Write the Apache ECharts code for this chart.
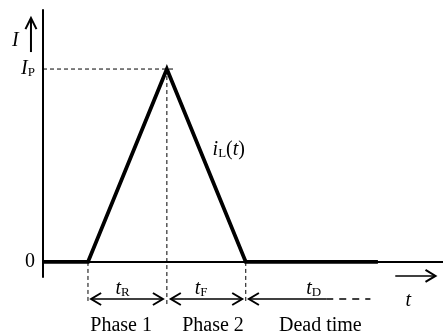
<!DOCTYPE html>
<html>
<head>
<meta charset="utf-8">
<script src="https://cdn.jsdelivr.net/npm/echarts@6/dist/echarts.min.js"></script>
<style>
  html, body { margin: 0; padding: 0; background: #fff; }
  #chart { width: 443px; height: 336px; }
</style>
</head>
<body>
<div id="chart"></div>
<script>
// Inductor current over one switching cycle: ramp up, ramp down, dead time.
const timeStart = -1.14;          // left end of the time axis
const timeEnd = 9;                // right end of the time axis
const waveTimes = [timeStart, 0, 2, 4, 7.35];
const waveCurrent = [0, 0, 1, 0, 0];
const peakCurrent = 1;            // I_P
const riseEnd = 2;                // end of t_R
const fallEnd = 4;                // end of t_F
const phaseNames = ['Phase 1', 'Phase 2', 'Dead time'];
const phaseCenters = [0.84, 3.17, 5.89];
const yTickValues = [0, peakCurrent];

const FONT = '"Liberation Serif", "Times New Roman", serif';
const FS = 20;

const chart = echarts.init(document.getElementById('chart'), null, { renderer: 'canvas' });

const rich = {
  it: { fontFamily: FONT, fontSize: FS, fontStyle: 'italic', color: '#000' },
  n: { fontFamily: FONT, fontSize: FS, color: '#000' },
  sub: { fontFamily: FONT, fontSize: 13, color: '#000', verticalAlign: 'bottom', padding: [6, 0, 0, 0] }
};

// arrows: [x1, y1, x2, y2, headAtStart, headAtEnd, dashedFromX]
const arrows = [
  [0.08, -0.192, 1.9, -0.192, 1, 1, null],
  [2.1, -0.192, 3.91, -0.192, 1, 1, null],
  [4.08, -0.192, 7.16, -0.192, 1, 0, 6.04],
  [7.79, -0.0725, 8.81, -0.0725, 0, 1, null],
  [-1.445, 1.088, -1.445, 1.264, 0, 1, null]
];

// labels: [x, y, rich text]
const labels = [
  [0.876, -0.14, '{it|t}{sub|R}'],
  [2.87, -0.14, '{it|t}{sub|F}'],
  [5.72, -0.14, '{it|t}{sub|D}'],
  [8.12, -0.2, '{it|t}'],
  [3.57, 0.58, '{it|i}{sub|L}{n|(}{it|t}{n|)}'],
  [-1.84, 1.145, '{it|I}']
].concat(phaseNames.map((p, i) => [phaseCenters[i], -0.33, '{n|' + p + '}']));

// dashed guide lines
const guides = [
  [[timeStart, peakCurrent], [2.2, peakCurrent]],
  [[riseEnd, peakCurrent], [riseEnd, -0.233]],
  [[0, 0], [0, -0.21]],
  [[fallEnd, 0], [fallEnd, -0.21]]
];

function chevron(p, dir, len, half) {
  const ux = dir[0], uy = dir[1];
  const px = -uy, py = ux;
  return {
    type: 'polyline',
    shape: { points: [
      [p[0] - ux * len + px * half, p[1] - uy * len + py * half],
      [p[0], p[1]],
      [p[0] - ux * len - px * half, p[1] - uy * len - py * half]
    ] },
    style: { stroke: '#000', lineWidth: 2, fill: null }
  };
}

const option = {
  backgroundColor: '#fff',
  animation: false,
  grid: { left: 43, right: 0, top: 10, bottom: 59 },
  xAxis: {
    type: 'value', min: timeStart, max: timeEnd,
    axisLine: { onZero: true, lineStyle: { color: '#000', width: 2 } },
    axisTick: { show: false }, axisLabel: { show: false }, splitLine: { show: false }
  },
  yAxis: {
    type: 'value', min: -0.078, max: 1.306,
    axisLine: { show: true, onZero: false, lineStyle: { color: '#000', width: 2 } },
    axisTick: { show: false }, splitLine: { show: false },
    axisLabel: {
      customValues: yTickValues, margin: 8,
      formatter: v => v === 0 ? '{n|0}' : '{it|I}{sub|P}',
      rich: rich
    }
  },
  series: [
    {
      type: 'line', data: waveTimes.map((t, i) => [t, waveCurrent[i]]),
      symbol: 'none', lineStyle: { color: '#000', width: 3.8, join: 'miter' }, z: 5
    },
    ...guides.map(g => ({
      type: 'line', data: g, symbol: 'none', clip: false, silent: true,
      lineStyle: { color: '#000', width: 1, type: [4, 3] }
    })),
    {
      type: 'custom', clip: false, data: arrows,
      renderItem: (params, api) => {
        const d = arrows[params.dataIndex];
        const a = api.coord([d[0], d[1]]);
        const b = api.coord([d[2], d[3]]);
        const dx = b[0] - a[0], dy = b[1] - a[1];
        const L = Math.hypot(dx, dy);
        const u = [dx / L, dy / L];
        const vertical = Math.abs(u[1]) > 0.5;
        const len = vertical ? 11 : 10, half = vertical ? 5.5 : 6;
        const children = [];
        if (d[6] != null) {
          const m = api.coord([d[6], d[1]]);
          children.push({ type: 'line', shape: { x1: a[0], y1: a[1], x2: m[0], y2: m[1] },
            style: { stroke: '#000', lineWidth: 1.5 } });
          children.push({ type: 'line', shape: { x1: m[0], y1: m[1], x2: b[0], y2: b[1] },
            style: { stroke: '#000', lineWidth: 1.5, lineDash: [7, 6] } });
        } else {
          children.push({ type: 'line', shape: { x1: a[0], y1: a[1], x2: b[0], y2: b[1] },
            style: { stroke: '#000', lineWidth: vertical ? 2 : 1.5 } });
        }
        if (d[4]) children.push(chevron(a, [-u[0], -u[1]], len, half));
        if (d[5]) children.push(chevron(b, u, len, half));
        return { type: 'group', children: children };
      }
    },
    {
      type: 'custom', clip: false, data: labels,
      renderItem: (params, api) => {
        const d = labels[params.dataIndex];
        const p = api.coord([d[0], d[1]]);
        return {
          type: 'text', x: p[0], y: p[1],
          style: { text: d[2], rich: rich, align: 'center', verticalAlign: 'middle',
                   fontFamily: FONT, fontSize: FS, fill: '#000' }
        };
      }
    }
  ]
};

chart.setOption(option);
</script>
</body>
</html>
